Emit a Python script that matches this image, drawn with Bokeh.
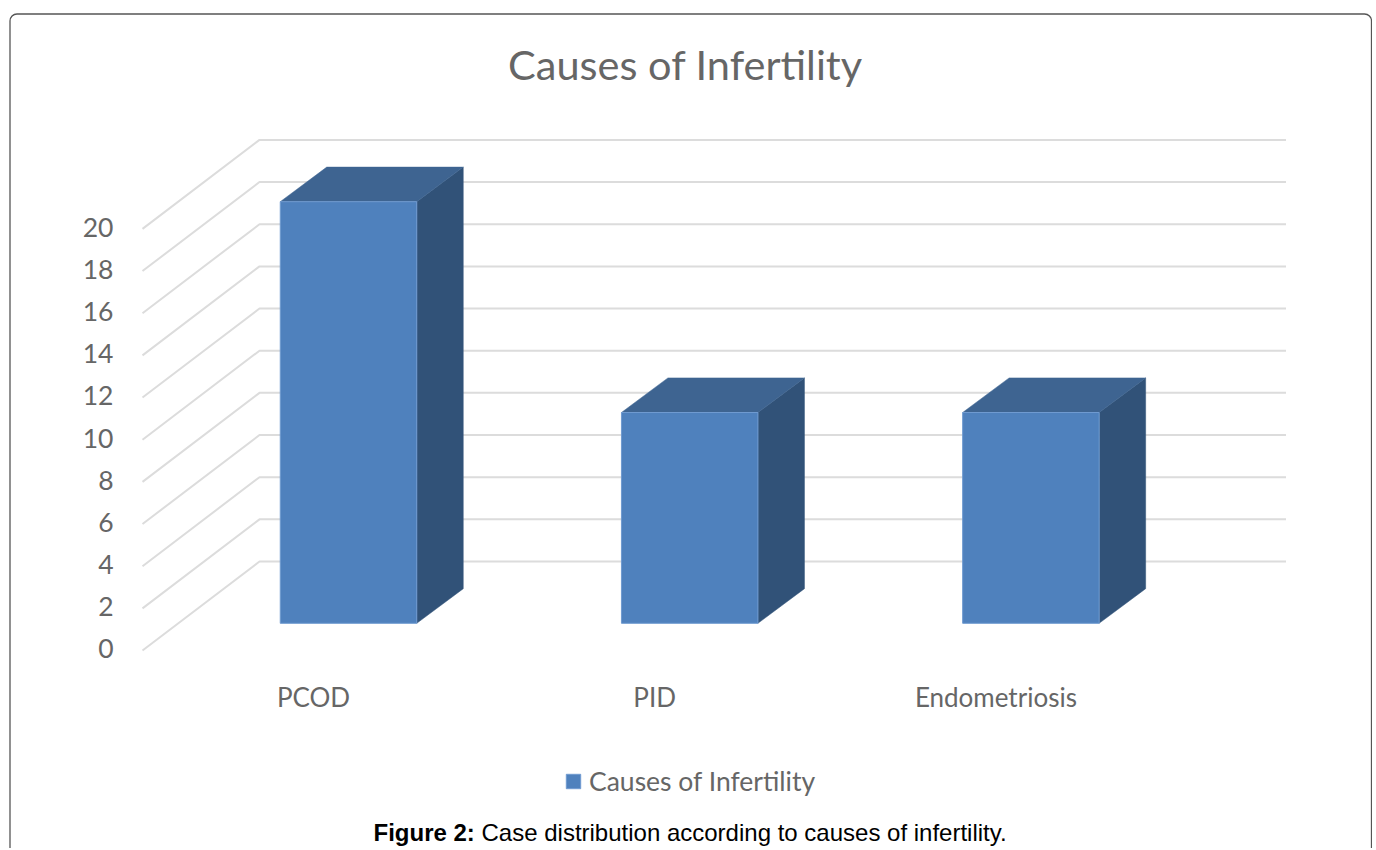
from bokeh.plotting import figure
from bokeh.models import Range1d, LinearAxis, FixedTicker, Legend, LegendItem
from bokeh.core.properties import value
from bokeh.embed import file_html
from bokeh.resources import INLINE

# ---- data ----
categories = ["PCOD", "PID", "Endometriosis"]
case_counts = [20, 10, 10]
y_ticks = [0, 2, 4, 6, 8, 10, 12, 14, 16, 18, 20]
chart_title = "Causes of Infertility"
series_name = "Causes of Infertility"
caption_bold = "Figure 2:"
caption_rest = "Case distribution according to causes of infertility."

# ---- page geometry (screen pixels in the photographed page) ----
W, H = 1372, 848
ORIGIN = 0
CAT_X0, CAT_STEP = 313.0, 341.2      # screen x of the first category label, spacing
VAL_Y0, VAL_STEP = 622.8, 21.08      # screen y of value 0 on the front plane, px per unit
BAR_OFFSET = 35.0 / CAT_STEP         # bar centre relative to its label
BAR_WIDTH = 136.5 / CAT_STEP
DX, DY = 46.5 / CAT_STEP, 34.6 / VAL_STEP   # depth of a bar
WALL_DY = 61.8 / VAL_STEP            # back wall rise above front plane
FLOOR_DY = 27.2 / VAL_STEP           # front end of the side wall below front plane
LABEL_SHIFT = 25.5 / VAL_STEP        # axis labels sit below the front plane


def dx(px):
    return (px - CAT_X0) / CAT_STEP


def dy(py):
    return (VAL_Y0 - py) / VAL_STEP


p = figure(
    width=W, height=H, output_backend="svg", toolbar_location=None,
    x_range=Range1d(dx(ORIGIN), dx(ORIGIN + W)),
    y_range=Range1d(dy(ORIGIN + H), dy(ORIGIN)),
    x_axis_location=None, y_axis_location=None,
    min_border=0, min_border_left=0, min_border_right=0, min_border_top=0, min_border_bottom=0,
    outline_line_color=None, background_fill_color="white", border_fill_color="white",
)
p.grid.visible = False

# rounded frame round the figure (runs off the bottom of the page)
p.quad(left=[dx(9.5)], right=[dx(1371)], top=[dy(13.5)], bottom=[dy(880)],
       fill_color="white", line_color="#555555", line_width=1.3, border_radius=7)

# walls: gridlines running from the front-left, to the back-left, then to the right
xs_grid = [[dx(142), dx(259), dx(1285.5)] for _ in y_ticks]
ys_grid = [[v - FLOOR_DY, v + WALL_DY, v + WALL_DY] for v in y_ticks]
p.multi_line(xs_grid, ys_grid, line_color="#DCDCDC", line_width=2)

# bars
centres = [i + BAR_OFFSET for i in range(len(categories))]
lefts = [c - BAR_WIDTH / 2 for c in centres]
rights = [c + BAR_WIDTH / 2 for c in centres]

side_x = [[r, r + DX, r + DX, r] for r in rights]
side_y = [[0, DY, v + DY, v] for v in case_counts]
p.patches(side_x, side_y, fill_color="#315278", line_color="#315278", line_width=0.5)

top_x = [[l, l + DX, r + DX, r] for l, r in zip(lefts, rights)]
top_y = [[v, v + DY, v + DY, v] for v in case_counts]
p.patches(top_x, top_y, fill_color="#3E6491", line_color="#3E6491", line_width=0.5)

front = p.vbar(x=centres, top=case_counts, bottom=0, width=BAR_WIDTH,
               fill_color="#4F81BD", line_color="#6F9AD0", line_width=1)

# value axis: labels are drawn on the front plane, shifted below the wall
p.extra_y_ranges["front"] = Range1d(p.y_range.start + LABEL_SHIFT, p.y_range.end + LABEL_SHIFT)
yax = LinearAxis(y_range_name="front", ticker=FixedTicker(ticks=y_ticks),
                 fixed_location=dx(124),
                 axis_line_color=None, major_tick_line_color=None, minor_tick_line_color=None,
                 major_label_standoff=5,
                 major_label_text_font="Lato", major_label_text_font_size="26.5px",
                 major_label_text_color="#666666")
p.add_layout(yax, "left")

# category axis
xax = LinearAxis(ticker=FixedTicker(ticks=list(range(len(categories)))),
                 major_label_overrides={i: c for i, c in enumerate(categories)},
                 fixed_location=dy(672),
                 axis_line_color=None, major_tick_line_color=None, minor_tick_line_color=None,
                 major_label_standoff=2,
                 major_label_text_font="Lato", major_label_text_font_size="26px",
                 major_label_text_color="#666666")
p.add_layout(xax, "below")

# title
p.text(x=[dx(685)], y=[dy(63)], text=[chart_title], text_align="center", text_baseline="middle",
       text_font=value("Lato"), text_font_size="41.5px", text_color="#666666")

# caption
p.text(x=[dx(373)], y=[dy(831.5)], text=[caption_bold], text_align="left", text_baseline="middle",
       text_font=value("Liberation Sans"), text_font_size="24px", text_font_style="bold",
       text_color="#000000")
p.text(x=[dx(481)], y=[dy(831.5)], text=[caption_rest], text_align="left", text_baseline="middle",
       text_font=value("Liberation Sans"), text_font_size="24px", text_color="#000000")

# legend
legend = Legend(items=[LegendItem(label=series_name, renderers=[front])],
                location=(564, 51), orientation="horizontal",
                background_fill_alpha=0, border_line_color=None,
                label_text_font="Lato", label_text_font_size="26.5px", label_text_color="#666666",
                glyph_width=18, glyph_height=18, label_standoff=7, padding=0, margin=0)
p.add_layout(legend, "center")

open("out.html", "w").write(file_html(p, INLINE))
